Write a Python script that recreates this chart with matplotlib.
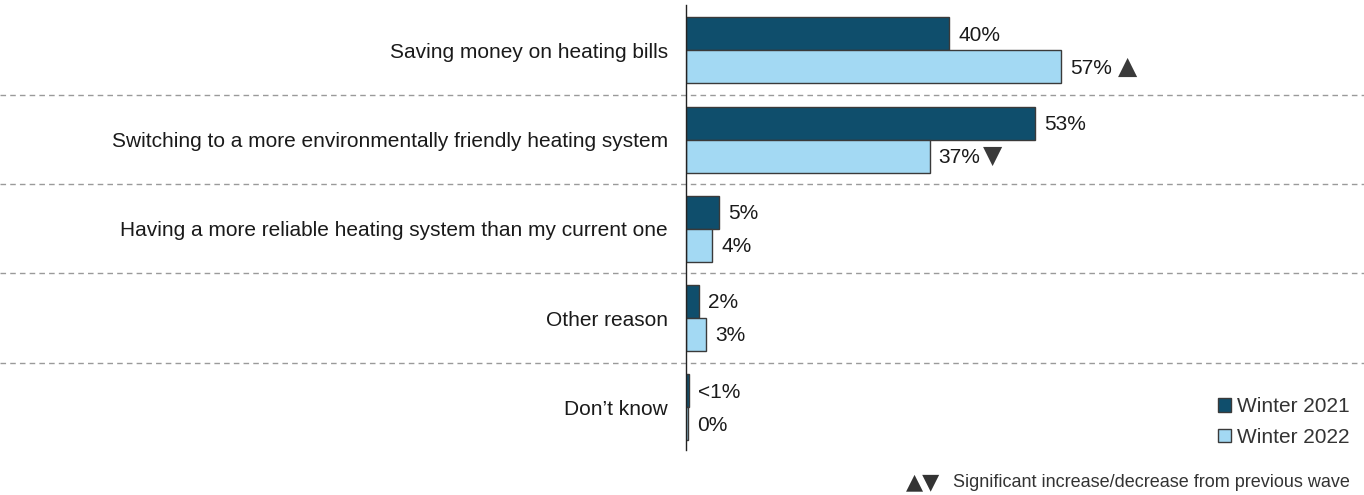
import matplotlib
matplotlib.use("Agg")
import matplotlib.pyplot as plt
from matplotlib.patches import Patch
import numpy as np

plt.rcParams["font.family"] = ["Liberation Sans", "DejaVu Sans"]

categories = [
    "Saving money on heating bills",
    "Switching to a more environmentally friendly heating system",
    "Having a more reliable heating system than my current one",
    "Other reason",
    "Don\u2019t know",
]
winter_2021 = [40, 53, 5, 2, 0.5]
winter_2022 = [57, 37, 4, 3, 0.3]
labels_2021 = ["40%", "53%", "5%", "2%", "<1%"]
labels_2022 = ["57%", "37%", "4%", "3%", "0%"]
# significance vs previous wave: 1 up, -1 down, 0 none
sig_2022 = [1, -1, 0, 0, 0]

dark = "#0f4e6c"
light = "#a3d9f3"
edge = "#3a3a3a"
text_col = "#1a1a1a"

fig = plt.figure(figsize=(13.64, 4.95), dpi=100)
ax = fig.add_axes([686 / 1364, 45 / 495, 678 / 1364, 445 / 495])

y = np.arange(len(categories))
h = 0.37
ax.barh(y - h / 2, winter_2021, height=h, color=dark, edgecolor=edge, linewidth=1)
ax.barh(y + h / 2, winter_2022, height=h, color=light, edgecolor=edge, linewidth=1)

for i in range(len(categories)):
    ax.annotate(labels_2021[i], (winter_2021[i], y[i] - h / 2), xytext=(6.5, -1),
                textcoords="offset points", va="center", ha="left",
                fontsize=15, color=text_col)
    ax.annotate(labels_2022[i], (winter_2022[i], y[i] + h / 2), xytext=(6.5, -1),
                textcoords="offset points", va="center", ha="left",
                fontsize=15, color=text_col)
    if sig_2022[i] != 0:
        sym = "\u25b2" if sig_2022[i] > 0 else "\u25bc"
        off = 48 if sig_2022[i] > 0 else 45
        ax.annotate(sym, (winter_2022[i], y[i] + h / 2), xytext=(off, 0),
                    textcoords="offset points", va="center", ha="center",
                    fontsize=18, color="#3a3a3a", family="DejaVu Sans")

for sep in y[:-1] + 0.5:
    ax.axhline(sep, xmin=-686 / 678, xmax=1, color="#9a9a9a", linestyle=(0, (4, 3)),
               linewidth=1, clip_on=False)

ax.set_xlim(0, 103)
ax.set_ylim(4.48, -0.51)
ax.set_yticks(y)
ax.set_yticklabels(categories, fontsize=15, color=text_col)
ax.tick_params(axis="y", length=0, pad=13)
ax.set_xticks([])
for s in ["top", "right", "bottom"]:
    ax.spines[s].set_visible(False)
ax.spines["left"].set_color("#222222")
ax.spines["left"].set_linewidth(1)

handles = [Patch(facecolor=dark, edgecolor=edge, label="Winter 2021"),
           Patch(facecolor=light, edgecolor=edge, label="Winter 2022")]
fig.legend(handles=handles, loc="lower right", bbox_to_anchor=(1.0, 0.068),
           frameon=False, fontsize=15, handlelength=0.6, handleheight=0.6,
           handletextpad=0.3, labelspacing=0.55, labelcolor="#333333",
           borderpad=0.2)

fig.text(906 / 1364, 0.026, "\u25b2\u25bc", ha="left", va="center", fontsize=16,
         color="#333333", family="DejaVu Sans")
fig.text(0.99, 0.026, "Significant increase/decrease from previous wave",
         ha="right", va="center", fontsize=13, color="#333333")

fig.savefig("out.png", dpi=100)
